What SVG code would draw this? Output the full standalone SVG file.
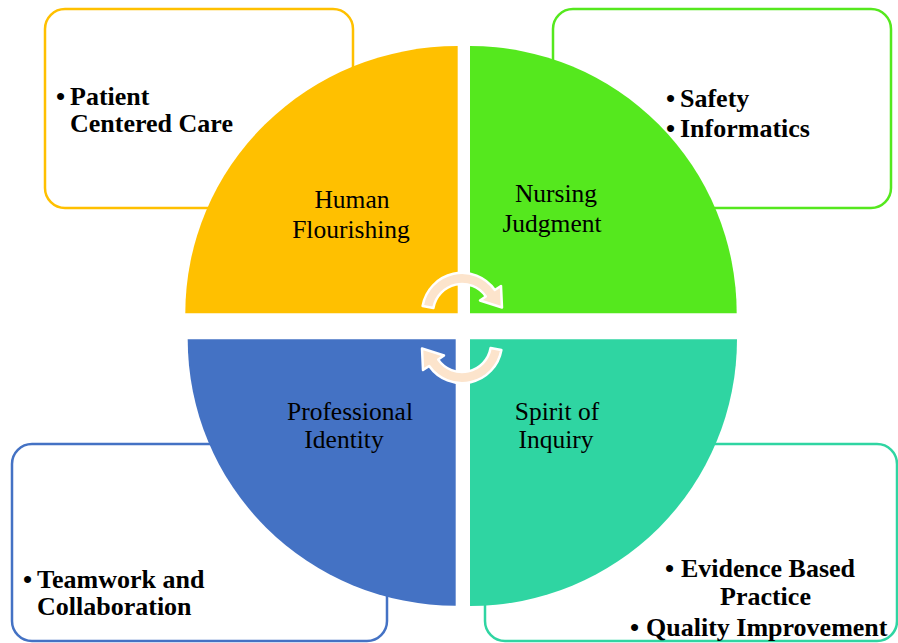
<svg xmlns="http://www.w3.org/2000/svg" width="898" height="643" viewBox="0 0 898 643">
<style>
.box{fill:#fff;stroke-width:2.5}
.lbl{font-family:"Liberation Serif","Times New Roman",serif;font-size:25.5px;fill:#000;text-anchor:middle}
.bul{font-family:"Liberation Serif","Times New Roman",serif;font-size:26px;font-weight:bold;fill:#000}
.arr{fill:#FCE4CC;stroke:#fff;stroke-width:2.5;stroke-linejoin:round}
</style>
<rect width="898" height="643" fill="#fff"/>
<g id="box-patient">
<rect class="box" x="45" y="9" width="308" height="199" rx="20" stroke="#FFC000"/>
<text class="bul"><tspan x="56" y="105">•</tspan><tspan x="70" y="105">Patient</tspan><tspan x="70" y="132">Centered Care</tspan></text>
</g>
<g id="box-safety">
<rect class="box" x="553" y="9" width="338" height="199" rx="20" stroke="#55E81E"/>
<text class="bul"><tspan x="666" y="107">•</tspan><tspan x="680" y="107">Safety</tspan><tspan x="666" y="137">•</tspan><tspan x="680" y="137">Informatics</tspan></text>
</g>
<g id="box-teamwork">
<rect class="box" x="12" y="444" width="375" height="197" rx="20" stroke="#4472C4"/>
<text class="bul"><tspan x="23" y="588">•</tspan><tspan x="37" y="588">Teamwork and</tspan><tspan x="37" y="615">Collaboration</tspan></text>
</g>
<g id="box-evidence">
<rect class="box" x="485" y="444" width="412" height="197" rx="20" stroke="#2FD5A2"/>
<text class="bul"><tspan x="665" y="577">•</tspan><tspan x="681" y="577">Evidence Based</tspan><tspan x="720" y="605">Practice</tspan><tspan x="630" y="636">•</tspan><tspan x="646" y="636">Quality Improvement</tspan></text>
</g>
<g id="human-flourishing">
<path d="M457.7,313.3 L185.3,313.3 A272.4,267.3 0 0 1 457.7,46 Z" fill="#FFC000"/>
<text class="lbl"><tspan x="352" y="208">Human</tspan><tspan x="351" y="238">Flourishing</tspan></text>
</g>
<g id="nursing-judgment">
<path d="M470,313.3 L470,46 A266.7,267.3 0 0 1 736.7,313.3 Z" fill="#55E81E"/>
<text class="lbl"><tspan x="556" y="202">Nursing</tspan><tspan x="552" y="232">Judgment</tspan></text>
</g>
<g id="professional-identity">
<path d="M455.7,339.3 L455.7,605.7 A268,266.4 0 0 1 187.7,339.3 Z" fill="#4472C4"/>
<text class="lbl"><tspan x="350" y="420">Professional</tspan><tspan x="344" y="448">Identity</tspan></text>
</g>
<g id="spirit-of-inquiry">
<path d="M470,339.3 L737,339.3 A267,266.7 0 0 1 470,606 Z" fill="#2FD5A2"/>
<text class="lbl"><tspan x="557" y="420">Spirit of</tspan><tspan x="556" y="448">Inquiry</tspan></text>
</g>
<g id="connectors">
<path class="arr" d="M422.6,306 A40,40 0 0 1 494.8,290 L501,286 L502,307.5 L480,300.5 L485.8,296.4 A29,29 0 0 0 433.4,308 Z"/>
<path class="arr" transform="rotate(180 462 328)" d="M422.6,306 A40,40 0 0 1 494.8,290 L501,286 L502,307.5 L480,300.5 L485.8,296.4 A29,29 0 0 0 433.4,308 Z"/>
</g>
</svg>
